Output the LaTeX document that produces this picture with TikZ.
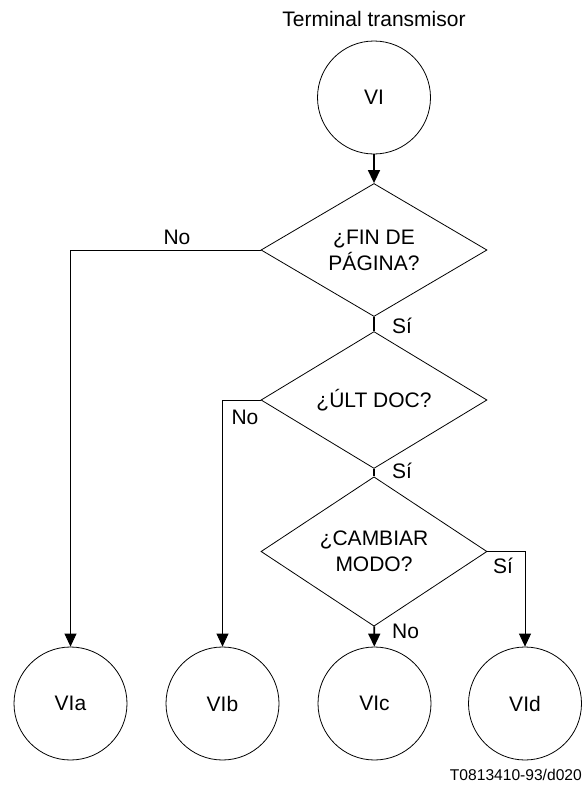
\documentclass[tikz,border=0pt]{standalone}
\usepackage{fontspec}
\setmainfont{Liberation Sans}
\usetikzlibrary{shapes.geometric,arrows.meta}

\tikzset{
  state/.style={circle, draw, line width=0.8pt, minimum size=113pt, inner sep=0pt},
  decision/.style={diamond, draw, line width=0.8pt, minimum width=226pt,
    minimum height=133pt, inner sep=0pt, align=center},
  lbl/.style={inner sep=0pt},
  flow/.style={line width=1.6pt},
  branch/.style={line width=0.8pt},
}

\begin{document}
\begin{tikzpicture}[x=1pt, y=-1pt, >={Triangle[width=12pt,length=13pt]},
    font=\fontsize{21}{26}\selectfont]
  \useasboundingbox (0,0) rectangle (586,787);

  \node[lbl, anchor=base] (title) at (374,27) {Terminal transmisor};
  \node[state] (VI) at (374,97.5) {VI};

  \node[decision] (fin) at (374,250) {¿FIN DE\\PÁGINA?};
  \node[decision] (ult) at (374,400) {¿ÚLT DOC?};
  \node[decision] (cambiar) at (374,551.5) {¿CAMBIAR\\MODO?};

  \node[state] (VIa) at (70.5,703.5) {VIa};
  \node[state] (VIb) at (222.5,703.5) {VIb};
  \node[state] (VIc) at (374.5,703.5) {VIc};
  \node[state] (VId) at (525,703.5) {VId};

  \draw[flow,->] (VI) -- (fin);
  \draw[flow] (fin) -- (ult);
  \draw[flow] (ult) -- (cambiar);
  \draw[flow,->] (cambiar) -- (VIc);
  \draw[branch,->] (fin.west) -| (VIa);
  \draw[branch,->] (ult.west) -| (VIb);
  \draw[branch,->] (cambiar.east) -| (VId);

  \node[lbl, anchor=base] (noFin) at (177,244) {No};
  \node[lbl, anchor=base west] (siFin) at (392,333) {Sí};
  \node[lbl, anchor=base] (noUlt) at (245,424) {No};
  \node[lbl, anchor=base west] (siUlt) at (392,478) {Sí};
  \node[lbl, anchor=base west] (noCambiar) at (392,638) {No};
  \node[lbl, anchor=base west] (siCambiar) at (493,573) {Sí};

  \node[lbl, anchor=base east, font=\fontsize{15.6}{18}\selectfont] (code) at (582,780) {T0813410-93/d020};
\end{tikzpicture}
\end{document}
